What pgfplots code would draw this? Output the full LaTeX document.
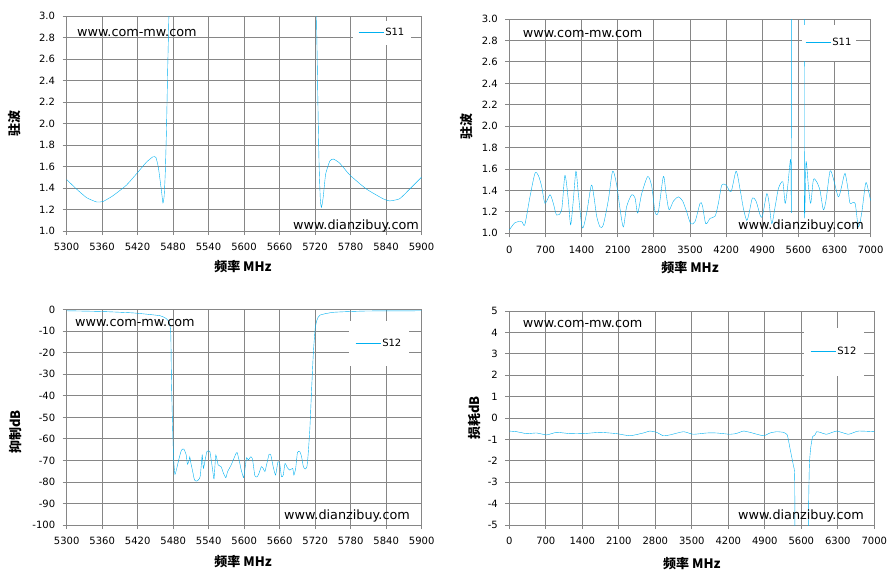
\documentclass[border=0pt]{standalone}
\usepackage{pgfplots}
\pgfplotsset{compat=1.18}
\usepackage{fontspec}
\setmainfont{DejaVu Sans}
\newfontfamily\cjk{Noto Sans CJK SC}
\definecolor{sline}{RGB}{0,176,240}
\definecolor{gridc}{RGB}{134,134,134}
\pgfplotsset{
  panel/.style={
    anchor=south west, scale only axis,
    grid=major,
    major grid style={gridc, line width=0.8pt},
    axis line style={gridc, line width=0.8pt},
    tick style={gridc, line width=0.8pt},
    major tick length=4pt,
    tick align=outside,
    xtick pos=bottom, ytick pos=left,
    ticklabel style={font=\fontsize{10}{12}\selectfont, text=black},
    yticklabel shift=4pt,
    xticklabel shift=5pt,
    label style={font=\cjk\bfseries\fontsize{13}{15}\selectfont},
    xlabel={频率 MHz},
    clip=true,
    cycle list={{sline, line width=1.3pt, mark=none}},
    legend image code/.code={\draw[#1] (0pt,0pt) -- (25pt,0pt);},
    legend style={draw=none, fill=white, font=\fontsize{10}{12}\selectfont, anchor=center,
      nodes={inner sep=1.5pt}},
  },
}
\pgfplotstableread{
f v
5300 1.48
5317 1.39
5334 1.31
5351 1.27
5362 1.275
5379 1.33
5401 1.425
5418 1.53
5435 1.64
5446 1.69
5451 1.685
5455 1.60
5458 1.48
5461 1.35
5463 1.26
5465 1.32
5467 1.55
5469 1.95
5471 2.50
5473 3.00
5475 3.6
5477 5
5718 5
5721 3.6
5722.5 3.0
5724 2.5
5725.5 2.0
5727 1.6
5729 1.29
5731 1.22
5734 1.32
5738 1.53
5745 1.65
5751 1.67
5762 1.63
5779 1.52
5807 1.39
5835 1.30
5846 1.28
5863 1.30
5880 1.39
5900 1.50
}\tabA
\pgfplotstableread{
f v
0 1.03
110 1.10
239 1.11
300 1.08
400 1.34
497 1.56
562 1.54
626 1.44
691 1.28
788 1.36
852 1.28
917 1.17
1014 1.22
1078 1.54
1143 1.31
1188 1.08
1240 1.31
1291 1.58
1337 1.37
1414 1.05
1498 1.19
1589 1.45
1640 1.34
1692 1.16
1757 1.06
1821 1.08
1918 1.31
2002 1.58
2080 1.45
2144 1.23
2209 1.06
2273 1.25
2370 1.36
2435 1.33
2487 1.19
2564 1.37
2681 1.53
2758 1.44
2823 1.20
2887 1.20
2984 1.53
3036 1.37
3094 1.22
3178 1.30
3275 1.34
3359 1.30
3436 1.20
3514 1.09
3598 1.11
3695 1.28
3740 1.26
3805 1.09
3889 1.14
3986 1.16
4050 1.28
4115 1.45
4199 1.45
4296 1.39
4393 1.58
4470 1.41
4535 1.23
4599 1.12
4645 1.19
4709 1.33
4780 1.30
4858 1.17
4903 1.16
4987 1.37
5032 1.28
5084 1.09
5149 1.25
5214 1.42
5298 1.48
5343 1.28
5395 1.45
5450 1.69
5465 1.26
5468 4
5470 12
5712 12
5714 4
5716 1.22
5748 1.67
5793 1.44
5838 1.28
5890 1.50
5954 1.48
6018 1.40
6083 1.22
6135 1.31
6212 1.58
6277 1.51
6373 1.34
6438 1.44
6502 1.56
6567 1.39
6600 1.28
6697 1.28
6761 1.06
6826 1.19
6903 1.47
6955 1.40
7000 1.30
}\tabB
\pgfplotstableread{
f v
5300 -0.5
5356 -0.8
5413 -1.5
5458 -2.8
5469 -4.3
5474 -6.3
5476 -11.8
5477 -31.9
5479 -55
5481 -70.6
5483 -76.5
5486 -73.7
5490 -69
5494 -65.2
5498 -64.7
5502 -67.5
5504 -71.8
5507 -69.8
5508 -68.3
5510 -71.4
5513 -75.2
5516 -79.1
5520 -79.6
5524 -78.6
5526 -76.8
5529 -67.5
5531 -73.7
5534 -69.8
5537 -65.9
5542 -65.9
5547 -75.2
5549 -78.6
5552 -67.5
5556 -72.1
5561 -72.9
5565 -76
5569 -78
5572 -75.2
5578 -72.1
5585 -67.5
5588 -66.3
5592 -70.6
5595 -74.5
5599 -78
5601 -74.5
5604 -68.7
5607 -69.8
5611 -68.3
5614 -69.3
5618 -77.1
5622 -77.6
5625 -76
5629 -72.9
5632 -73.7
5635 -75.2
5638 -71.8
5642 -67.2
5645 -67.5
5649 -72.9
5653 -76.8
5657 -70.6
5660 -71.4
5663 -77.6
5666 -76.8
5669 -71.4
5673 -73.4
5677 -74.5
5682 -73.7
5684 -76.8
5687 -73.7
5690 -66.3
5694 -65.9
5697 -68.3
5700 -72.9
5703 -74
5706 -72.9
5708 -67.5
5711 -55.1
5714 -36.5
5717 -19.5
5720 -8.7
5723 -4.8
5728 -2.5
5751 -1.2
5807 -0.6
5900 -0.5
}\tabC
\pgfplotstableread{
f v
0 -0.61
141 -0.64
332 -0.73
524 -0.70
716 -0.79
908 -0.67
1163 -0.73
1419 -0.73
1739 -0.67
2058 -0.73
2314 -0.83
2570 -0.70
2698 -0.61
2826 -0.67
2953 -0.83
3081 -0.79
3337 -0.64
3529 -0.76
3784 -0.70
3976 -0.70
4232 -0.76
4360 -0.72
4488 -0.61
4616 -0.67
4871 -0.83
4999 -0.70
5127 -0.64
5255 -0.67
5331 -0.79
5383 -1.42
5447 -2.2
5472 -2.66
5478 -6
5480 -20
5730 -20
5733 -6
5753 -2.35
5779 -1.42
5817 -0.87
5862 -0.79
5894 -0.64
5958 -0.67
6086 -0.76
6278 -0.61
6501 -0.76
6693 -0.61
7000 -0.64
}\tabD
\begin{document}
\begin{tikzpicture}
\path[use as bounding box] (0pt,0pt) rectangle (896pt,-582pt);
% Panel 1
\begin{axis}[panel, at={(66.5pt,-231pt)}, width=355pt, height=215pt,
  xmin=5300, xmax=5900, ymin=1, ymax=3,
  xtick={5300,5360,5420,5480,5540,5600,5660,5720,5780,5840,5900},
  xticklabels={5300,5360,5420,5480,5540,5600,5660,5720,5780,5840,5900},
  ytick={1,1.2,1.4,1.6,1.8,2,2.2,2.4,2.6,2.8,3},
  yticklabels={1.0,1.2,1.4,1.6,1.8,2.0,2.2,2.4,2.6,2.8,3.0},
  ylabel={驻波},
  xlabel style={at={(rel axis cs:0.497,-0.167)}, anchor=center},
  ylabel style={at={(rel axis cs:-0.145,0.5)}, anchor=center},
  legend style={at={(rel axis cs:0.889,0.923)}, inner xsep=5pt, inner ysep=6pt},
]
\addplot+[smooth, tension=0.3] table[x=f,y=v] {\tabA};
\addlegendentry{S11}
\end{axis}
% Panel 2
\begin{axis}[panel, at={(509.3pt,-233.3pt)}, width=361.4pt, height=214.3pt,
  xmin=0, xmax=7000, ymin=1, ymax=3,
  xtick={0,700,1400,2100,2800,3500,4200,4900,5600,6300,7000},
  xticklabels={0,700,1400,2100,2800,3500,4200,4900,5600,6300,7000},
  ytick={1,1.2,1.4,1.6,1.8,2,2.2,2.4,2.6,2.8,3},
  yticklabels={1.0,1.2,1.4,1.6,1.8,2.0,2.2,2.4,2.6,2.8,3.0},
  ylabel={驻波},
  xlabel style={at={(rel axis cs:0.5,-0.162)}, anchor=center},
  ylabel style={at={(rel axis cs:-0.117,0.5)}, anchor=center},
  legend style={at={(rel axis cs:0.885,0.890)}, inner xsep=3.5pt, inner ysep=12pt},
]
\addplot+[smooth, tension=0.45] table[x=f,y=v] {\tabB};
\addlegendentry{S11}
\end{axis}
% Panel 3
\begin{axis}[panel, at={(66.7pt,-525pt)}, width=355pt, height=215.3pt,
  xmin=5300, xmax=5900, ymin=-100, ymax=0,
  xtick={5300,5360,5420,5480,5540,5600,5660,5720,5780,5840,5900},
  xticklabels={5300,5360,5420,5480,5540,5600,5660,5720,5780,5840,5900},
  ytick={-100,-90,-80,-70,-60,-50,-40,-30,-20,-10,0},
  yticklabels={-100,-90,-80,-70,-60,-50,-40,-30,-20,-10,0},
  ylabel={抑制dB},
  xlabel style={at={(rel axis cs:0.497,-0.172)}, anchor=center},
  ylabel style={at={(rel axis cs:-0.145,0.432)}, anchor=center},
  legend style={at={(rel axis cs:0.880,0.844)}, inner xsep=6pt, inner ysep=16.5pt},
]
\addplot+[smooth, tension=0.3] table[x=f,y=v] {\tabC};
\addlegendentry{S12}
\end{axis}
% Panel 4
\begin{axis}[panel, at={(509.3pt,-525pt)}, width=365pt, height=214pt,
  xmin=0, xmax=7000, ymin=-5, ymax=5,
  xtick={0,700,1400,2100,2800,3500,4200,4900,5600,6300,7000},
  xticklabels={0,700,1400,2100,2800,3500,4200,4900,5600,6300,7000},
  ytick={-5,-4,-3,-2,-1,0,1,2,3,4,5},
  yticklabels={-5,-4,-3,-2,-1,0,1,2,3,4,5},
  ylabel={损耗dB},
  xlabel style={at={(rel axis cs:0.5,-0.178)}, anchor=center},
  ylabel style={at={(rel axis cs:-0.094,0.5)}, anchor=center},
  legend style={at={(rel axis cs:0.890,0.810)}, inner xsep=6pt, inner ysep=18pt},
]
\addplot+[smooth, tension=0.3] table[x=f,y=v] {\tabD};
\addlegendentry{S12}
\end{axis}
% watermarks
\begin{scope}[every node/.style={font=\fontsize{12.8}{15}\selectfont, anchor=west, inner sep=0pt}]
\node at (77pt,-33pt) {www.com-mw.com};
\node at (293pt,-226pt) {www.dianzibuy.com};
\node at (522.7pt,-34pt) {www.com-mw.com};
\node at (738pt,-226pt) {www.dianzibuy.com};
\node at (75pt,-322.7pt) {www.com-mw.com};
\node at (284pt,-515.7pt) {www.dianzibuy.com};
\node at (522.7pt,-324pt) {www.com-mw.com};
\node at (738pt,-515.7pt) {www.dianzibuy.com};
\end{scope}
\end{tikzpicture}
\end{document}
